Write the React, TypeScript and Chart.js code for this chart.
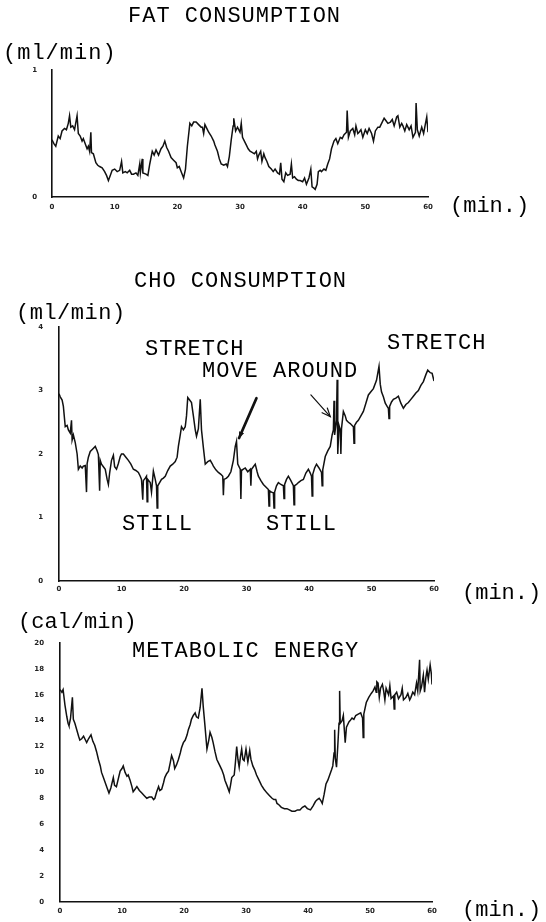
import React, { useEffect, useRef } from "react";
import { Chart, registerables } from "chart.js";

Chart.register(...registerables);

const PAGE_W = 546;
const PAGE_H = 922;

// ---------- data ----------
const xTickValues = [0, 10, 20, 30, 40, 50, 60];

const fatTime = [0, 0.3, 0.6, 1, 1.3, 1.6, 2, 2.3, 2.6, 2.8, 3, 3.3, 3.6, 4, 4.2, 4.5, 4.8, 5, 5.3, 5.6, 5.8, 6, 6.2, 6.3, 6.6, 7, 7.3, 7.6, 8, 8.4, 8.7, 9, 9.3, 9.6, 10, 10.4, 10.8, 11.1, 11.3, 11.7, 12, 12.4, 12.7, 13, 13.4, 13.7, 14, 14.1, 14.4, 14.5, 15, 15.3, 15.6, 16, 16.3, 16.6, 17, 17.4, 17.7, 18, 18.3, 18.6, 19, 19.4, 19.8, 20, 20.3, 20.6, 21, 21.3, 21.6, 22, 22.3, 22.6, 23, 23.4, 23.8, 24, 24.2, 24.4, 24.8, 25, 25.4, 25.8, 26, 26.4, 26.7, 27, 27.4, 27.8, 28, 28.3, 28.6, 28.9, 29, 29.3, 29.6, 30, 30.2, 30.4, 30.8, 31, 31.3, 31.6, 32, 32.3, 32.6, 32.8, 33, 33.3, 33.5, 33.8, 34, 34.3, 34.6, 35, 35.3, 35.6, 36, 36.3, 36.5, 36.7, 37, 37.3, 37.6, 38, 38.2, 38.4, 38.7, 39, 39.3, 39.6, 40, 40.3, 40.6, 41, 41.3, 41.5, 41.8, 42, 42.3, 42.5, 42.8, 43, 43.4, 43.7, 44, 44.3, 44.6, 45, 45.3, 45.6, 46, 46.3, 46.6, 47, 47.1, 47.3, 47.6, 48, 48.3, 48.5, 48.8, 49, 49.3, 49.6, 50, 50.3, 50.6, 51, 51.3, 51.6, 52, 52.3, 52.6, 53, 53.3, 53.6, 54, 54.3, 54.6, 55, 55.2, 55.5, 55.8, 56, 56.3, 56.6, 57, 57.3, 57.6, 58, 58.1, 58.3, 58.6, 59, 59.3, 59.6, 59.8, 60];
const fatValue = [0.45, 0.42, 0.40, 0.48, 0.46, 0.52, 0.54, 0.53, 0.58, 0.64, 0.55, 0.56, 0.53, 0.64, 0.50, 0.48, 0.44, 0.46, 0.42, 0.38, 0.40, 0.36, 0.51, 0.35, 0.34, 0.27, 0.25, 0.24, 0.23, 0.20, 0.17, 0.13, 0.17, 0.21, 0.22, 0.20, 0.21, 0.28, 0.19, 0.20, 0.19, 0.21, 0.18, 0.18, 0.19, 0.17, 0.26, 0.19, 0.30, 0.19, 0.18, 0.17, 0.26, 0.36, 0.33, 0.37, 0.33, 0.38, 0.40, 0.44, 0.39, 0.36, 0.31, 0.29, 0.27, 0.23, 0.24, 0.20, 0.15, 0.22, 0.40, 0.58, 0.56, 0.59, 0.59, 0.57, 0.55, 0.55, 0.50, 0.57, 0.53, 0.51, 0.48, 0.44, 0.41, 0.36, 0.30, 0.26, 0.25, 0.26, 0.24, 0.32, 0.45, 0.56, 0.62, 0.52, 0.55, 0.51, 0.58, 0.47, 0.43, 0.41, 0.38, 0.36, 0.35, 0.34, 0.36, 0.30, 0.33, 0.36, 0.28, 0.34, 0.31, 0.28, 0.24, 0.22, 0.20, 0.22, 0.19, 0.18, 0.27, 0.14, 0.12, 0.19, 0.17, 0.18, 0.26, 0.15, 0.16, 0.14, 0.13, 0.13, 0.12, 0.15, 0.10, 0.15, 0.22, 0.08, 0.07, 0.06, 0.10, 0.20, 0.21, 0.20, 0.22, 0.21, 0.26, 0.30, 0.38, 0.44, 0.46, 0.42, 0.47, 0.46, 0.49, 0.51, 0.68, 0.47, 0.52, 0.54, 0.49, 0.56, 0.50, 0.51, 0.53, 0.47, 0.53, 0.50, 0.54, 0.50, 0.44, 0.52, 0.55, 0.55, 0.58, 0.62, 0.60, 0.58, 0.59, 0.61, 0.56, 0.63, 0.64, 0.55, 0.58, 0.56, 0.52, 0.57, 0.53, 0.56, 0.47, 0.51, 0.74, 0.53, 0.48, 0.55, 0.50, 0.58, 0.63, 0.51];

const choTime = [0, 0.2, 0.5, 0.7, 1.0, 1.3, 1.5, 1.8, 2.0, 2.1, 2.3, 2.6, 2.9, 3.1, 3.4, 3.7, 3.9, 4.2, 4.4, 4.5, 4.7, 5.0, 5.4, 5.8, 6.1, 6.3, 6.5, 6.6, 6.8, 7.1, 7.4, 7.7, 7.9, 8.1, 8.4, 8.7, 8.9, 9.2, 9.5, 9.8, 10.0, 10.3, 10.7, 11.1, 11.5, 11.9, 12.3, 12.7, 13.0, 13.2, 13.4, 13.5, 13.8, 14.0, 14.1, 14.2, 14.6, 14.8, 15.1, 15.4, 15.6, 15.7, 15.8, 16.1, 16.4, 16.7, 17.0, 17.4, 17.8, 18.2, 18.6, 18.9, 19.1, 19.4, 19.6, 19.9, 20.2, 20.4, 20.6, 20.9, 21.2, 21.5, 21.8, 22.0, 22.3, 22.6, 22.8, 23.1, 23.4, 23.8, 24.2, 24.5, 24.7, 25.1, 25.5, 25.9, 26.2, 26.3, 26.4, 26.8, 27.1, 27.5, 27.9, 28.2, 28.4, 28.6, 29.0, 29.1, 29.2, 29.5, 29.8, 30.2, 30.6, 30.7, 30.8, 31.1, 31.4, 31.7, 31.9, 32.3, 32.7, 33.1, 33.5, 33.6, 33.7, 34.0, 34.3, 34.4, 34.5, 34.8, 35.1, 35.5, 35.9, 36.0, 36.1, 36.4, 36.7, 37.1, 37.5, 37.6, 37.7, 38.0, 38.3, 38.7, 39.1, 39.5, 39.9, 40.2, 40.4, 40.5, 40.6, 40.9, 41.2, 41.6, 42.0, 42.1, 42.2, 42.6, 43.0, 43.4, 43.7, 43.9, 44.0, 44.1, 44.4, 44.5, 44.6, 44.8, 45.0, 45.1, 45.2, 45.5, 45.8, 46.0, 46.3, 46.6, 46.9, 47.1, 47.2, 47.3, 47.6, 47.9, 48.3, 48.7, 49.1, 49.5, 49.9, 50.3, 50.8, 51.2, 51.4, 51.6, 51.9, 52.2, 52.5, 52.7, 52.8, 52.9, 53.2, 53.5, 53.9, 54.3, 54.7, 55.1, 55.5, 55.9, 56.3, 56.7, 57.1, 57.5, 57.9, 58.3, 58.7, 59.0, 59.4, 59.7, 60.0];
const choValue = [2.95, 2.9, 2.85, 2.75, 2.43, 2.45, 2.38, 2.33, 2.53, 2.22, 2.3, 2.18, 2.0, 1.76, 1.81, 1.78, 1.81, 1.82, 1.4, 1.85, 1.95, 2.04, 2.08, 2.12, 2.05, 1.99, 1.42, 1.9, 1.84, 1.80, 1.76, 1.6, 1.52, 1.7, 1.9, 1.98, 1.8, 1.76, 1.85, 1.96, 2.0, 2.0, 1.95, 1.9, 1.84, 1.76, 1.74, 1.71, 1.65, 1.6, 1.28, 1.58, 1.62, 1.65, 1.25, 1.6, 1.55, 1.4, 1.73, 1.6, 1.5, 1.15, 1.5, 1.55, 1.6, 1.62, 1.65, 1.74, 1.81, 1.84, 1.88, 1.95, 2.12, 2.3, 2.43, 2.38, 2.43, 2.6, 2.89, 2.85, 2.81, 2.6, 2.38, 2.28, 2.4, 2.86, 2.38, 2.1, 1.84, 1.88, 1.9, 1.85, 1.81, 1.75, 1.71, 1.68, 1.65, 1.35, 1.6, 1.62, 1.65, 1.72, 1.9, 2.12, 2.2, 1.84, 1.76, 1.29, 1.74, 1.76, 1.78, 1.72, 1.76, 1.5, 1.76, 1.8, 1.84, 1.72, 1.65, 1.58, 1.52, 1.48, 1.44, 1.18, 1.42, 1.4, 1.39, 1.15, 1.4, 1.5, 1.55, 1.52, 1.5, 1.3, 1.52, 1.6, 1.65, 1.58, 1.5, 1.2, 1.5, 1.52, 1.55, 1.58, 1.6, 1.7, 1.76, 1.7, 1.65, 1.34, 1.68, 1.78, 1.84, 1.78, 1.71, 1.5, 1.75, 1.96, 2.05, 2.12, 2.3, 2.38, 2.84, 2.3, 2.53, 3.17, 2.0, 2.45, 2.38, 2.0, 2.4, 2.67, 2.6, 2.53, 2.5, 2.48, 2.45, 2.43, 2.17, 2.45, 2.5, 2.53, 2.6, 2.67, 2.8, 2.93, 2.98, 3.03, 3.16, 3.38, 3.1, 2.98, 2.9, 2.8, 2.75, 2.72, 2.56, 2.75, 2.82, 2.86, 2.88, 2.91, 2.8, 2.72, 2.78, 2.81, 2.86, 2.91, 2.96, 3.0, 3.08, 3.14, 3.25, 3.32, 3.28, 3.27, 3.15];

const metTime = [0, 0.3, 0.5, 0.8, 1.1, 1.3, 1.45, 1.7, 2.0, 2.15, 2.4, 2.7, 3.0, 3.2, 3.5, 3.8, 4.1, 4.3, 4.6, 5.0, 5.3, 5.6, 5.9, 6.2, 6.5, 6.7, 7.0, 7.3, 7.6, 7.9, 8.2, 8.6, 8.8, 9.1, 9.4, 9.7, 10.0, 10.2, 10.5, 10.8, 11.0, 11.3, 11.6, 11.8, 12.1, 12.4, 12.8, 13.2, 13.6, 14.0, 14.4, 14.8, 15.1, 15.3, 15.6, 15.9, 16.1, 16.4, 16.7, 16.9, 17.2, 17.5, 17.8, 18.0, 18.3, 18.5, 18.8, 19.1, 19.4, 19.6, 19.9, 20.2, 20.5, 20.7, 21.0, 21.2, 21.5, 21.8, 22.0, 22.3, 22.6, 22.9, 23.1, 23.4, 23.7, 24.0, 24.2, 24.5, 24.7, 25.0, 25.3, 25.7, 26.1, 26.4, 26.6, 27.0, 27.3, 27.5, 27.7, 28.1, 28.3, 28.5, 28.7, 28.9, 29.1, 29.3, 29.5, 29.7, 30.0, 30.3, 30.6, 30.8, 31.1, 31.4, 31.7, 32.1, 32.5, 32.9, 33.4, 33.8, 34.2, 34.5, 34.8, 35.0, 35.3, 35.7, 36.2, 36.6, 37.0, 37.4, 37.9, 38.3, 38.7, 39.1, 39.5, 39.9, 40.4, 40.8, 41.2, 41.5, 41.8, 42.1, 42.3, 42.6, 42.9, 43.2, 43.5, 43.8, 44.0, 44.2, 44.3, 44.4, 44.6, 44.8, 45.0, 45.1, 45.2, 45.5, 45.7, 46.0, 46.2, 46.6, 46.8, 47.1, 47.4, 47.7, 48.1, 48.5, 48.8, 48.9, 49.0, 49.4, 49.8, 50.2, 50.5, 50.8, 51.0, 51.1, 51.3, 51.5, 51.7, 52.0, 52.2, 52.4, 52.6, 53.0, 53.2, 53.4, 53.8, 53.9, 54.0, 54.3, 54.6, 55.0, 55.2, 55.4, 55.8, 56.1, 56.4, 56.6, 56.9, 57.2, 57.5, 57.7, 58.0, 58.1, 58.3, 58.6, 58.8, 59.0, 59.2, 59.4, 59.7, 59.9, 60.0];
const metValue = [16.4, 16.2, 16.4, 15.2, 14.3, 13.8, 13.6, 14.2, 15.8, 14.1, 13.8, 13.3, 12.8, 12.5, 12.6, 12.8, 12.5, 12.3, 12.6, 12.9, 12.4, 12.1, 11.6, 11.0, 10.5, 10.0, 9.6, 9.2, 8.8, 8.4, 8.8, 9.6, 9.0, 8.9, 9.5, 10.1, 10.3, 10.5, 10.0, 9.7, 9.8, 9.4, 8.9, 8.5, 8.7, 8.9, 8.6, 8.4, 8.2, 8.0, 8.1, 8.1, 7.9, 8.0, 8.5, 8.9, 8.6, 8.7, 9.2, 9.6, 9.9, 10.1, 10.8, 11.3, 10.9, 10.3, 10.6, 11.0, 11.5, 11.9, 12.3, 12.5, 12.9, 13.3, 13.7, 14.1, 14.4, 14.6, 14.3, 14.2, 15.0, 16.5, 15.1, 13.5, 11.8, 12.5, 13.1, 12.7, 12.3, 11.6, 11.0, 10.6, 10.2, 9.8, 9.4, 8.9, 8.5, 9.0, 9.6, 9.8, 10.8, 12.0, 11.0, 10.4, 11.2, 11.8, 11.0, 10.9, 11.8, 10.8, 11.7, 11.0, 10.5, 10.2, 9.8, 9.4, 9.0, 8.7, 8.4, 8.2, 8.0, 7.9, 7.9, 7.6, 7.5, 7.3, 7.2, 7.2, 7.1, 7.0, 7.0, 7.1, 7.1, 7.3, 7.4, 7.2, 7.1, 7.4, 7.75, 7.9, 8.0, 7.8, 7.6, 8.3, 9.1, 9.4, 9.8, 10.2, 10.5, 11.5, 13.3, 11.1, 10.4, 12.0, 13.8, 16.3, 13.8, 14.0, 14.4, 12.3, 13.5, 13.9, 14.0, 14.2, 14.1, 14.4, 14.5, 14.6, 14.2, 12.7, 14.5, 15.4, 15.8, 16.1, 16.3, 16.6, 16.2, 17.0, 16.9, 15.8, 16.5, 16.8, 16.3, 15.6, 16.5, 16.0, 16.7, 15.7, 15.9, 14.9, 16.0, 16.2, 15.7, 16.0, 16.5, 15.6, 15.8, 16.1, 15.6, 15.8, 16.2, 16.0, 16.9, 16.3, 18.7, 16.3, 16.6, 17.5, 16.2, 17.3, 17.9, 17.2, 18.3, 17.6, 16.8];

// annotation arrows for CHO panel, in data units [tailMin, tailVal, tipMin, tipVal]
const choArrowMoveAround = [31.6, 2.88, 28.8, 2.25];
const choArrowSecond = [40.3, 2.93, 43.4, 2.59];

// ---------- layout ----------
const Y_SCALE_W = 30;
const X_SCALE_H = 20;

type Arrow = { pts: number[]; width: number; head: "filled" | "open" };
type Panel = {
  time: number[];
  value: number[];
  yMax: number;
  yStep: number;
  l: number; r: number; t: number; b: number;
  yPad: number; xPad: number;
  arrows: Arrow[];
};

const panels: Panel[] = [
  { time: fatTime, value: fatValue, yMax: 1, yStep: 1, l: 52, r: 428, t: 70, b: 197, yPad: 15, xPad: 6, arrows: [] },
  {
    time: choTime, value: choValue, yMax: 4, yStep: 1, l: 59, r: 434, t: 327, b: 581, yPad: 16, xPad: 4,
    arrows: [
      { pts: choArrowMoveAround, width: 2.6, head: "filled" },
      { pts: choArrowSecond, width: 1.2, head: "open" },
    ],
  },
  { time: metTime, value: metValue, yMax: 20, yStep: 2, l: 60, r: 432, t: 643, b: 903, yPad: 16, xPad: 5, arrows: [] },
];

const TEXT_FONT = '"Liberation Mono", "DejaVu Sans Mono", monospace';
const labels = [
  { text: "FAT CONSUMPTION", left: 128, cy: 15, ls: 1 },
  { text: "(ml/min)", left: 3, cy: 52, ls: 1 },
  { text: "(min.)", left: 450, cy: 205, ls: 0 },
  { text: "CHO CONSUMPTION", left: 134, cy: 280, ls: 1 },
  { text: "(ml/min)", left: 16, cy: 312, ls: 0.5 },
  { text: "STRETCH", left: 145, cy: 348, ls: 1 },
  { text: "MOVE AROUND", left: 202, cy: 370, ls: 1 },
  { text: "STRETCH", left: 387, cy: 342, ls: 1 },
  { text: "STILL", left: 122, cy: 523, ls: 1 },
  { text: "STILL", left: 266, cy: 523, ls: 1 },
  { text: "(min.)", left: 462, cy: 592, ls: 0 },
  { text: "(cal/min)", left: 18, cy: 621, ls: 0 },
  { text: "METABOLIC ENERGY", left: 132, cy: 650, ls: 1 },
  { text: "(min.)", left: 462, cy: 909, ls: 0 },
];

function makeArrowPlugin(arrows: Arrow[]) {
  return {
    id: "panelArrows",
    afterDatasetsDraw(chart: any) {
      const xs = chart.scales.x;
      const ys = chart.scales.y;
      const ctx = chart.ctx;
      ctx.save();
      ctx.strokeStyle = "#111";
      ctx.fillStyle = "#111";
      arrows.forEach((a) => {
        const x1 = xs.getPixelForValue(a.pts[0]);
        const y1 = ys.getPixelForValue(a.pts[1]);
        const x2 = xs.getPixelForValue(a.pts[2]);
        const y2 = ys.getPixelForValue(a.pts[3]);
        ctx.lineWidth = a.width;
        ctx.lineCap = "round";
        ctx.beginPath();
        ctx.moveTo(x1, y1);
        ctx.lineTo(x2, y2);
        ctx.stroke();
        const ang = Math.atan2(y2 - y1, x2 - x1);
        const len = a.head === "filled" ? 7 : 9;
        const spread = 0.4;
        const ax = x2 - len * Math.cos(ang - spread);
        const ay = y2 - len * Math.sin(ang - spread);
        const bx = x2 - len * Math.cos(ang + spread);
        const by = y2 - len * Math.sin(ang + spread);
        ctx.beginPath();
        if (a.head === "filled") {
          ctx.moveTo(x2, y2);
          ctx.lineTo(ax, ay);
          ctx.lineTo(bx, by);
          ctx.closePath();
          ctx.fill();
        } else {
          ctx.lineWidth = 1.2;
          ctx.moveTo(ax, ay);
          ctx.lineTo(x2, y2);
          ctx.lineTo(bx, by);
          ctx.stroke();
        }
      });
      ctx.restore();
    },
  };
}

function makeChart(canvas: HTMLCanvasElement, p: Panel) {
  const tickFont = { family: '"DejaVu Sans", sans-serif', size: 7, weight: "bold" as const };
  return new Chart(canvas, {
    type: "line",
    data: {
      datasets: [
        {
          data: p.time.map((t, i) => ({ x: t, y: p.value[i] })),
          borderColor: "#111",
          borderWidth: 1.5,
          pointRadius: 0,
          tension: 0,
          fill: false,
        },
      ],
    },
    options: {
      animation: false,
      responsive: false,
      maintainAspectRatio: false,
      events: [],
      layout: {
        padding: {
          left: p.l - Y_SCALE_W,
          right: PAGE_W - p.r,
          top: p.t,
          bottom: PAGE_H - p.b - X_SCALE_H,
        },
      },
      plugins: { legend: { display: false }, tooltip: { enabled: false }, title: { display: false } },
      scales: {
        x: {
          type: "linear",
          min: 0,
          max: 60,
          afterBuildTicks: (s: any) => {
            s.ticks = xTickValues.map((v) => ({ value: v }));
          },
          afterFit: (s: any) => {
            s.height = X_SCALE_H;
          },
          ticks: { font: tickFont, color: "#222", padding: p.xPad, maxRotation: 0, autoSkip: false },
          grid: { display: false, drawTicks: false },
          border: { display: true, color: "#111", width: 1.6 },
        },
        y: {
          type: "linear",
          min: 0,
          max: p.yMax,
          afterFit: (s: any) => {
            s.width = Y_SCALE_W;
          },
          ticks: { stepSize: p.yStep, font: tickFont, color: "#222", padding: p.yPad, autoSkip: false },
          grid: { display: false, drawTicks: false },
          border: { display: true, color: "#111", width: 1.6 },
        },
      },
    },
    plugins: [makeArrowPlugin(p.arrows)],
  } as any);
}

function PanelCanvas({ panel }: { panel: Panel }) {
  const ref = useRef<HTMLCanvasElement | null>(null);
  useEffect(() => {
    if (!ref.current) return;
    const chart = makeChart(ref.current, panel);
    return () => chart.destroy();
  }, [panel]);
  return (
    <canvas
      ref={ref}
      width={PAGE_W}
      height={PAGE_H}
      style={{ position: "absolute", left: 0, top: 0, width: PAGE_W, height: PAGE_H }}
    />
  );
}

export default function App() {
  return (
    <div
      style={{
        position: "absolute",
        left: 0,
        top: 0,
        width: PAGE_W,
        height: PAGE_H,
        background: "#fff",
        overflow: "hidden",
      }}
    >
      {panels.map((p, i) => (
        <PanelCanvas key={i} panel={p} />
      ))}
      {labels.map((lb, i) => (
        <div
          key={i}
          style={{
            position: "absolute",
            left: lb.left,
            top: lb.cy - 9.5,
            fontFamily: TEXT_FONT,
            fontSize: 22,
            lineHeight: "22px",
            letterSpacing: lb.ls,
            color: "#000",
            whiteSpace: "nowrap",
          }}
        >
          {lb.text}
        </div>
      ))}
    </div>
  );
}
